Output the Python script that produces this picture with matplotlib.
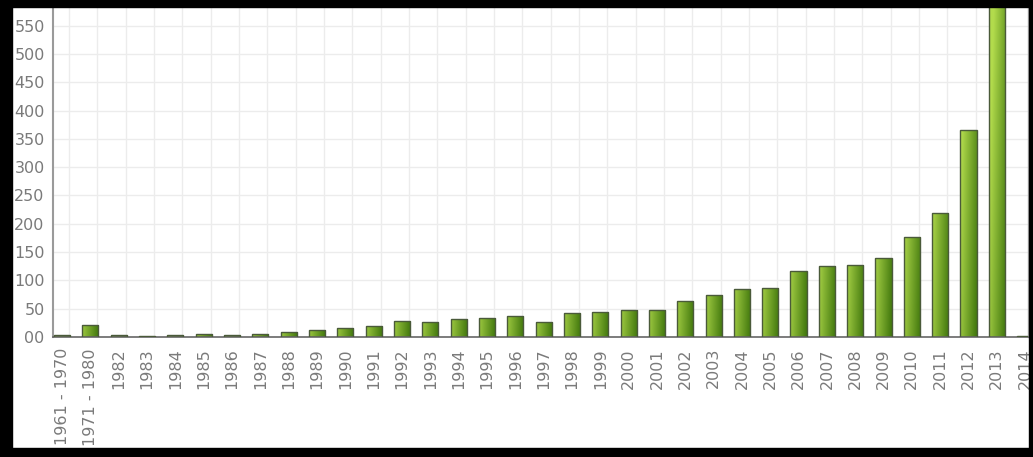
import numpy as np
import matplotlib
matplotlib.use("Agg")
import matplotlib.pyplot as plt
from matplotlib.patches import Rectangle

# publications per year
categories = ["1961 - 1970", "1971 - 1980", "1982", "1983", "1984", "1985", "1986",
              "1987", "1988", "1989", "1990", "1991", "1992", "1993", "1994", "1995",
              "1996", "1997", "1998", "1999", "2000", "2001", "2002", "2003", "2004",
              "2005", "2006", "2007", "2008", "2009", "2010", "2011", "2012", "2013",
              "2014"]
counts = [4, 22, 3, 1, 3, 6, 3, 5, 9, 13, 16, 19, 28, 27, 32, 34, 37, 27, 42, 44,
          48, 47, 64, 74, 85, 86, 116, 125, 127, 140, 177, 219, 366, 600, 1]
yticks = [0, 50, 100, 150, 200, 250, 300, 350, 400, 450, 500, 550]
yticklabels = ["00", "50", "100", "150", "200", "250", "300", "350", "400", "450",
               "500", "550"]

W, H = 1033, 457
fig = plt.figure(figsize=(W / 100, H / 100), dpi=100)
ax = fig.add_axes([53 / W, (H - 337) / H, (1028 - 53) / W, (337 - 7) / H])

ymax = 583
x = np.arange(len(categories))
width = 0.57

light = np.array([0.70, 0.86, 0.30])
dark = np.array([0.20, 0.42, 0.02])

bars = ax.bar(x, counts, width=width, facecolor="none", edgecolor="#4a5a3a",
              linewidth=1.0, zorder=3)
# horizontal gradient per bar, a bit lighter towards the top of the axes
for rect, val in zip(bars, counts):
    x0 = rect.get_x()
    x1 = x0 + rect.get_width()
    top = min(val, ymax)
    u = np.linspace(0, 1, 32)[None, :]
    v = np.linspace(top / ymax, 0, 64)[:, None]
    t = np.clip(0.2 + 0.7 * u - 0.4 * v, 0, 1)
    img = light[None, None, :] * (1 - t[..., None]) + dark[None, None, :] * t[..., None]
    im = ax.imshow(img, extent=[x0, x1, 0, top], aspect="auto", zorder=2,
                   interpolation="bilinear")
    im.set_clip_path(Rectangle((x0, 0), x1 - x0, val, transform=ax.transData))

ax.set_xlim(-0.32, 34.1)
ax.set_ylim(0, ymax)

# light grid
for gx in x + 0.25:
    ax.axvline(gx, color="#ececec", linewidth=1.0, zorder=0)
for gy in yticks[1:]:
    ax.axhline(gy, color="#ececec", linewidth=1.0, zorder=0)

ax.set_yticks(yticks)
ax.set_yticklabels(yticklabels)
ax.set_xticks(x)
ax.set_xticklabels(categories, rotation=90, va="top", ha="center")
ax.tick_params(axis="both", length=0, colors="#7a7a7a", labelsize=11.5)
ax.tick_params(axis="y", pad=6)
ax.tick_params(axis="x", pad=8)

ax.spines["top"].set_visible(False)
ax.spines["left"].set_color("#9a9a9a")
ax.spines["left"].set_linewidth(1.5)
ax.spines["bottom"].set_color("#666666")
ax.spines["bottom"].set_linewidth(1.2)
ax.spines["right"].set_color("#b0b0b0")
ax.spines["right"].set_linewidth(1.0)

# black frame around the whole picture
frame = dict(color="black", transform=fig.transFigure, zorder=10)
fig.patches.append(Rectangle((0, 0), 12 / W, 1, **frame))
fig.patches.append(Rectangle((0, 1 - 7 / H), 1, 7 / H, **frame))
fig.patches.append(Rectangle((1 - 4 / W, 0), 4 / W, 1, **frame))
fig.patches.append(Rectangle((0, 0), 1, 9 / H, **frame))

fig.savefig("out.png", dpi=100)
